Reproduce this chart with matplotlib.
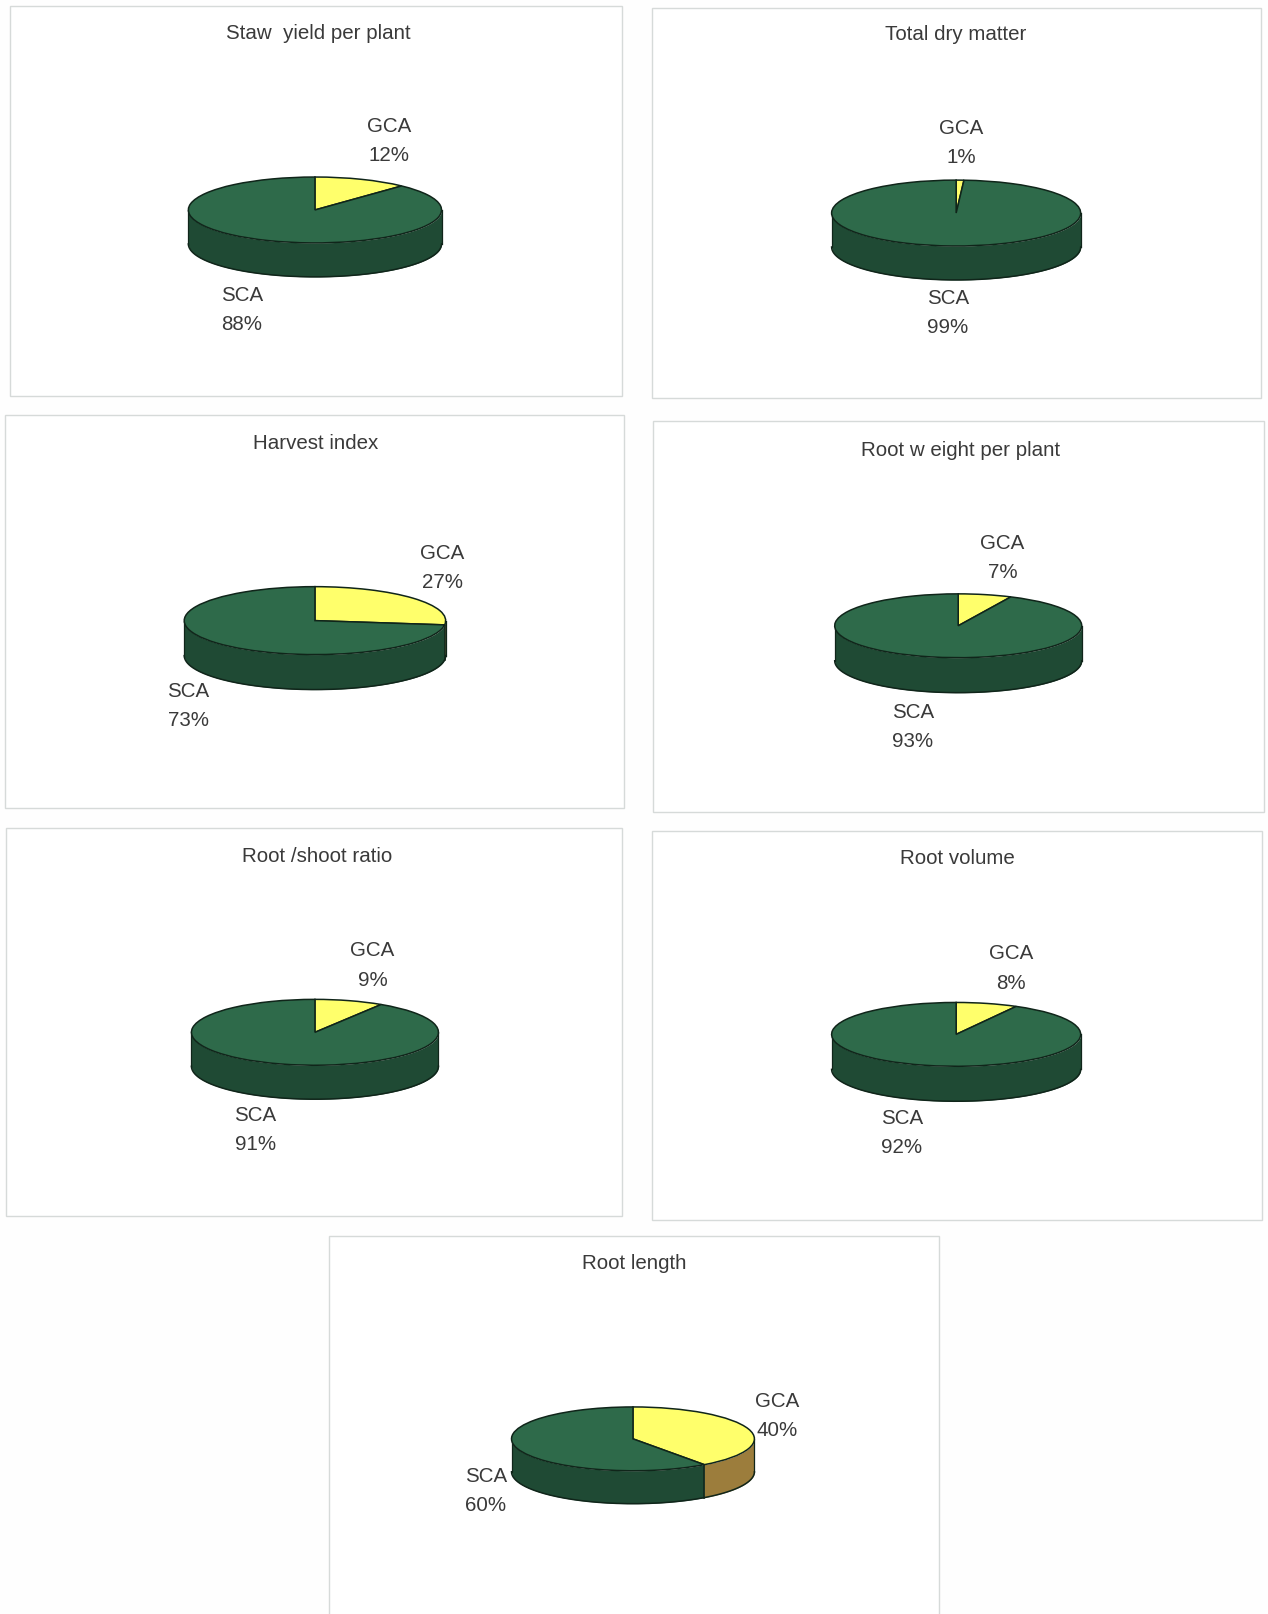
import numpy as np
import matplotlib
matplotlib.use("Agg")
import matplotlib.pyplot as plt
from matplotlib.patches import Rectangle

# ---- data ----
titles = ["Staw  yield per plant", "Total dry matter", "Harvest index",
          "Root w eight per plant", "Root /shoot ratio", "Root volume", "Root length"]
gca_values = [12, 1, 27, 7, 9, 8, 40]
sca_values = [88, 99, 73, 93, 91, 92, 60]
series_names = ["GCA", "SCA"]

# ---- layout, in pixels of the 1232x1568 view ----
S = 1268 / 1232
W, H = 1268, 1614
boxes = [(9.5, 5.5, 604.5, 384.5), (633.5, 7.5, 1225.5, 386.5), (4.5, 403.5, 606.5, 785.5),
         (634.5, 409.5, 1228.5, 788.5), (5.5, 804.5, 604.5, 1181.5), (633.5, 807.5, 1226.5, 1185.5),
         (319.5, 1200.5, 912.5, 1580)]
pies = [(306, 204, 123, 32, 33), (929, 207, 121, 32, 33), (306, 603, 127, 33, 34),
        (931, 608, 120, 31, 34), (306, 1003, 120, 32, 33), (929, 1005, 121, 31, 34),
        (615, 1398, 118, 31, 32)]
title_xy = [(309, 33), (929, 34), (307, 431), (933, 438), (308, 832), (930, 834.5), (616, 1228)]
gca_xy = [(378, 137), (934, 139), (430, 552), (974, 542), (362, 938), (982, 941), (755, 1376)]
sca_xy = [(235, 301), (921, 304), (183, 686), (887, 706), (248, 1098), (876, 1101), (472, 1449)]

# ---- style ----
GREEN_TOP, GREEN_SIDE = "#2e6a4a", "#1f4a34"
YELLOW_TOP, YELLOW_SIDE = "#ffff6b", "#9c7d3c"
EDGE = "#10251a"
TEXT = "#3a3a3a"
FRAME = "#d6dad9"
FS_TITLE, FS_LABEL = 14.8, 14.8

plt.rcParams["font.family"] = ["Liberation Sans", "DejaVu Sans"]
fig = plt.figure(figsize=(W / 100, H / 100), dpi=100, facecolor="#fefefe")


def fx(x):
    return x * S / W


def fy(y):
    return 1 - y * S / H


for i, title in enumerate(titles):
    x0, y0, x1, y1 = boxes[i]
    fig.add_artist(Rectangle((fx(x0), fy(y1)), fx(x1) - fx(x0), fy(y0) - fy(y1),
                             transform=fig.transFigure, facecolor="white",
                             edgecolor=FRAME, linewidth=1.0, zorder=-1))

    cx, cy, rx, ry, depth = pies[i]
    ax = fig.add_axes([fx(cx - rx), fy(cy + ry + depth), fx(2 * rx), fy(cy - ry) - fy(cy + ry + depth)])
    g, s = gca_values[i], sca_values[i]
    wedges, _ = ax.pie([g, s], startangle=90, counterclock=False, radius=1,
                       colors=[YELLOW_TOP, GREEN_TOP],
                       wedgeprops=dict(edgecolor=EDGE, linewidth=1.1))
    for w in wedges:
        w.set_clip_on(False)
        w.set_zorder(3)
    d = depth / ry
    ax.set_aspect("auto")
    ax.set_xlim(-1, 1)
    ax.set_ylim(-1 - d, 1)
    ax.axis("off")

    # side wall: the front half of the rim, coloured by the slice above it
    split = np.deg2rad(90 - 360 * g / (g + s)) + 2 * np.pi  # where GCA ends, going clockwise
    split = min(split, 2 * np.pi)
    green_t = np.linspace(np.pi, split, 200)
    ax.fill_between(np.cos(green_t), np.sin(green_t), np.sin(green_t) - d,
                    color=GREEN_SIDE, linewidth=0, zorder=1, clip_on=False)
    ax.plot(np.cos(green_t), np.sin(green_t) - d, color=EDGE, lw=1.1, zorder=2, clip_on=False)
    if split < 2 * np.pi:
        yellow_t = np.linspace(split, 2 * np.pi, 80)
        ax.fill_between(np.cos(yellow_t), np.sin(yellow_t), np.sin(yellow_t) - d,
                        color=YELLOW_SIDE, linewidth=0, zorder=1, clip_on=False)
        ax.plot(np.cos(yellow_t), np.sin(yellow_t) - d, color=EDGE, lw=1.1, zorder=2, clip_on=False)
        ax.plot([np.cos(split)] * 2, [np.sin(split), np.sin(split) - d], color=EDGE, lw=1.1, zorder=2)
    for side in (-1, 1):
        ax.plot([side, side], [0, -d], color=EDGE, lw=0.9, zorder=2, clip_on=False)

    fig.text(fx(title_xy[i][0]), fy(title_xy[i][1]), title, ha="center", va="center",
             fontsize=FS_TITLE, color=TEXT)
    for name, val, (lx, ly) in ((series_names[0], g, gca_xy[i]), (series_names[1], s, sca_xy[i])):
        fig.text(fx(lx), fy(ly), f"{name}\n{val}%", ha="center", va="center",
                 fontsize=FS_LABEL, color=TEXT, linespacing=1.68)

fig.savefig("out.png", dpi=100, facecolor=fig.get_facecolor())
